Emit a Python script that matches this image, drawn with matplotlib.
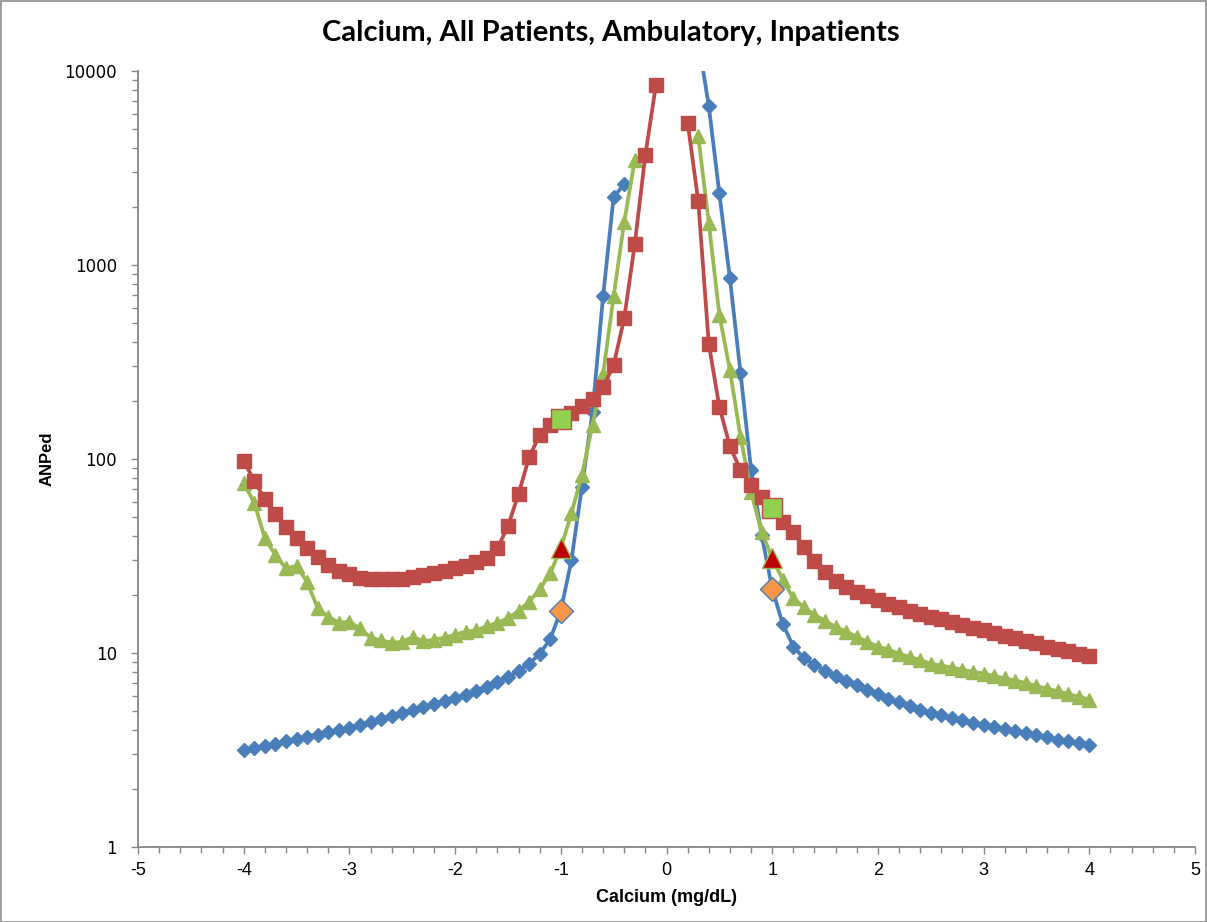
import numpy as np
import matplotlib
matplotlib.use("Agg")
import matplotlib.pyplot as plt
from matplotlib.patches import Rectangle
from matplotlib.ticker import LogLocator, MultipleLocator, FixedLocator, NullFormatter

# ---------------- data ----------------
blue_x_left = np.round(np.arange(-4.0, -0.35, 0.1), 1)
blue_left = [3.15, 3.23, 3.31, 3.40, 3.50, 3.60, 3.70, 3.80, 3.91, 4.02,
             4.13, 4.27, 4.41, 4.56, 4.72, 4.90, 5.08, 5.27, 5.46, 5.65,
             5.85, 6.1, 6.4, 6.7, 7.1, 7.5, 8.1, 8.8, 9.9, 11.8,
             16.5, 30, 72, 175, 690, 2250, 2600]
blue_x_right = np.round(np.arange(0.3, 4.05, 0.1), 1)
blue_right = [14500, 6600, 2340, 853, 279, 88, 40.6, 21.4, 14.1, 10.8,
              9.4, 8.7, 8.1, 7.6, 7.2, 6.8, 6.45, 6.15, 5.8, 5.56,
              5.33, 5.08, 4.92, 4.77, 4.63, 4.50, 4.37, 4.25, 4.14, 4.04,
              3.94, 3.85, 3.76, 3.67, 3.58, 3.50, 3.42, 3.35]

red_x_left = np.round(np.arange(-4.0, -0.05, 0.1), 1)
red_left = [98, 77, 62, 52, 44.8, 39, 34.7, 31.1, 28.4, 26.6,
            25.5, 24.5, 24.2, 24.0, 24.0, 24.2, 24.7, 25.2, 25.8, 26.5,
            27.3, 28.2, 29.3, 31, 34.6, 45, 66, 102, 133, 150,
            160, 173, 188, 203, 234, 305, 531, 1283, 3690, 8470]
red_x_right = np.round(np.arange(0.2, 4.05, 0.1), 1)
red_right = [5420, 2140, 392, 186, 116, 88, 73.5, 64, 55.6, 47.6,
             42.2, 35.3, 29.9, 26.2, 23.6, 21.9, 20.7, 19.7, 18.7, 17.9,
             17.2, 16.5, 15.9, 15.4, 15.0, 14.5, 14.0, 13.5, 13.1, 12.7,
             12.3, 11.9, 11.5, 11.2, 10.8, 10.5, 10.2, 9.9, 9.6]

green_x_left = np.round(np.arange(-4.0, -0.25, 0.1), 1)
green_left = [75, 59.5, 39, 32, 27.3, 28.1, 23.3, 17, 15.4, 14.3,
              14.5, 13.4, 12.0, 11.6, 11.3, 11.4, 12.1, 11.5, 11.7, 12.0,
              12.4, 12.9, 13.1, 13.7, 14.3, 15.1, 16.5, 18.4, 21.3, 25.7,
              34.7, 52.4, 82.7, 150, 273, 692, 1670, 3475]
green_x_right = np.round(np.arange(0.3, 4.05, 0.1), 1)
green_right = [4620, 1650, 553, 287, 130, 67.7, 42.2, 30.7, 23.9, 19.1,
               17.2, 15.7, 14.7, 13.6, 12.9, 12.1, 11.4, 10.8, 10.4, 9.9,
               9.55, 9.2, 8.8, 8.6, 8.4, 8.2, 8.0, 7.84, 7.6, 7.4,
               7.2, 7.0, 6.75, 6.55, 6.35, 6.15, 5.95, 5.75]

# highlighted points at +/- 1 mg/dL
hl_x = [-1, 1]
hl_red = [160, 55.6]
hl_green = [34.7, 30.7]
hl_blue = [16.5, 21.4]

x_ticks = [-5, -4, -3, -2, -1, 0, 1, 2, 3, 4, 5]
y_ticks = [1, 10, 100, 1000, 10000]
y_tick_labels = ["1", "10", "100", "1000", "10000"]

title = "Calcium, All Patients, Ambulatory, Inpatients"
x_label = "Calcium (mg/dL)"
y_label = "ANPed"

# ---------------- style ----------------
BLUE = "#4A7EBB"
RED = "#BE4B48"
GREEN = "#98B954"
AXIS = "#868686"

W, H = 1207, 922
fig = plt.figure(figsize=(W / 100, H / 100), dpi=100)
fig.patch.set_facecolor("white")
fig.add_artist(Rectangle((0.5 / W, 0.5 / H), 1 - 1.5 / W, 1 - 1.5 / H,
                         transform=fig.transFigure, fill=False,
                         edgecolor="#8C8C8C", linewidth=1.2))

ax = fig.add_axes([138 / W, (H - 847) / H, (1195 - 138) / W, (847 - 71) / H])
ax.set_yscale("log")
ax.set_xlim(-5, 5)
ax.set_ylim(1, 10000)

lw = 2.7
for xs, ys in [(blue_x_left, blue_left), (blue_x_right, blue_right)]:
    ax.plot(xs, ys, color=BLUE, lw=lw, marker="D", ms=7.5, mec=BLUE, mfc=BLUE,
            zorder=3)
for xs, ys in [(green_x_left, green_left), (green_x_right, green_right)]:
    ax.plot(xs, ys, color=GREEN, lw=lw, marker="^", ms=10, mec=GREEN, mfc=GREEN,
            zorder=4)
for xs, ys in [(red_x_left, red_left), (red_x_right, red_right)]:
    ax.plot(xs, ys, color=RED, lw=lw, marker="s", ms=9.5, mec=RED, mfc=RED,
            zorder=5)

ax.plot(hl_x, hl_red, ls="none", marker="s", ms=14.5, mfc="#92D050",
        mec=RED, mew=1.0, zorder=6)
ax.plot(hl_x, hl_green, ls="none", marker="^", ms=15, mfc="#C00000",
        mec=GREEN, mew=1.0, zorder=6)
ax.plot(hl_x, hl_blue, ls="none", marker="D", ms=12, mfc="#F79646",
        mec=BLUE, mew=1.0, zorder=6)

for s in ["top", "right"]:
    ax.spines[s].set_visible(False)
for s in ["left", "bottom"]:
    ax.spines[s].set_color(AXIS)
    ax.spines[s].set_linewidth(1.3)

ax.xaxis.set_major_locator(FixedLocator(x_ticks))
ax.xaxis.set_minor_locator(MultipleLocator(0.2))
ax.yaxis.set_major_locator(FixedLocator(y_ticks))
ax.yaxis.set_minor_locator(LogLocator(base=10, subs=np.arange(2, 10)))
ax.yaxis.set_minor_formatter(NullFormatter())
ax.set_yticklabels(y_tick_labels)
ax.set_xticklabels([str(t) for t in x_ticks])

ax.tick_params(axis="both", which="both", direction="out", color=AXIS,
               width=1.0)
ax.tick_params(axis="both", which="major", length=5)
ax.tick_params(axis="both", which="minor", length=4)
ax.tick_params(axis="y", which="major", labelsize=12, pad=10)
ax.tick_params(axis="x", which="major", labelsize=13, pad=6)
for lab in ax.get_yticklabels():
    lab.set_family(["DejaVu Sans"])
for lab in ax.get_xticklabels():
    lab.set_family(["Liberation Sans Narrow", "Liberation Sans", "DejaVu Sans"])

fig.text(611 / W, 1 - 33 / H, title, ha="center", va="center",
         fontsize=21, fontweight="bold", family=["Lato", "DejaVu Sans"])
fig.text(666 / W, 1 - 897 / H, x_label, ha="center", va="center",
         fontsize=13, fontweight="bold",
         family=["Liberation Sans Narrow", "Liberation Sans", "DejaVu Sans"])
fig.text(47 / W, 1 - 459 / H, y_label, ha="center", va="center",
         rotation=90, fontsize=12, fontweight="bold",
         family=["Liberation Sans Narrow", "Liberation Sans", "DejaVu Sans"])

fig.savefig("out.png", dpi=100, facecolor="white")
